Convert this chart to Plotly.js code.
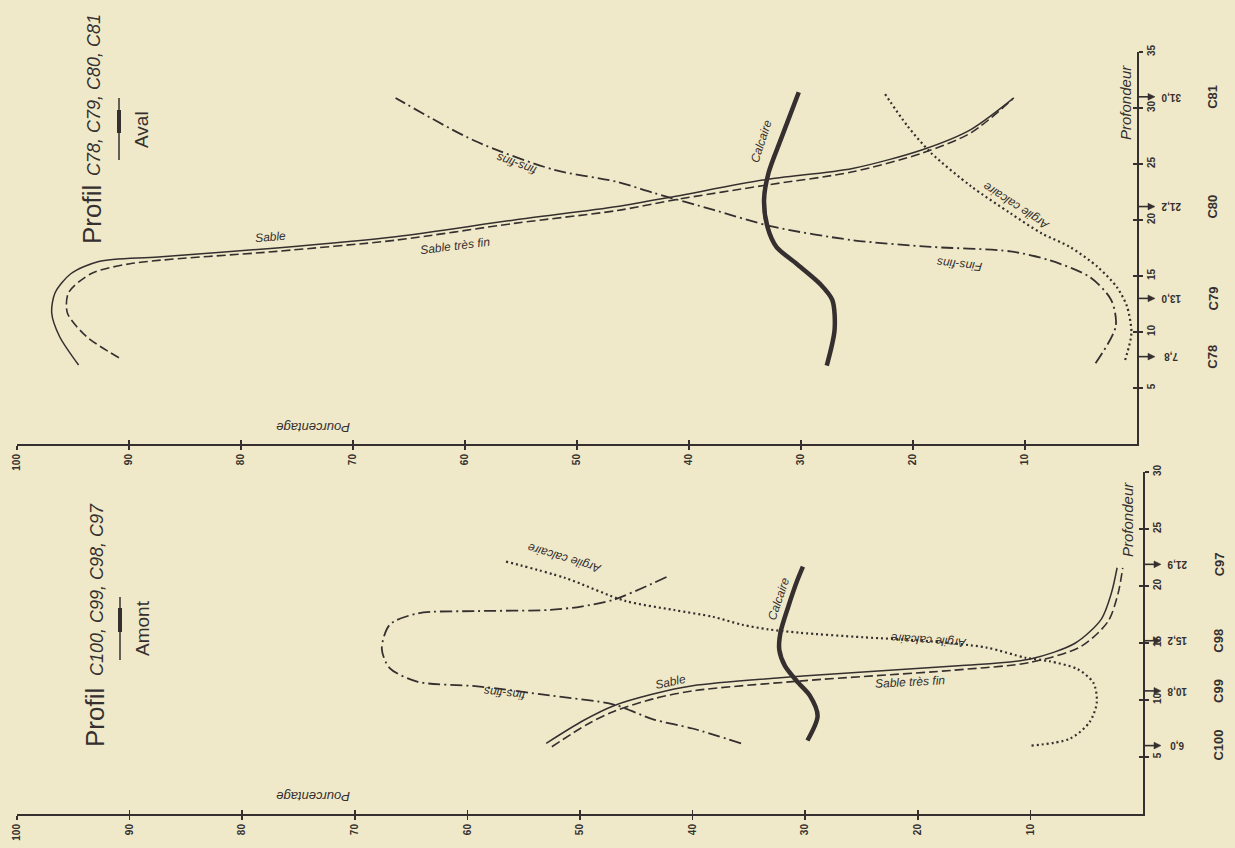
<!DOCTYPE html>
<html><head><meta charset="utf-8">
<script src="https://cdn.plot.ly/plotly-3.0.1.min.js"></script>
<style>html,body{margin:0;padding:0;background:#efe9c9;}#chart{width:1235px;height:848px;}</style>
</head><body><div id="chart"></div>
<script>
// ---------- DATA : Profil C78, C79, C80, C81 (Aval) ----------
const avalSableDepth = [7.05, 9.6, 11.7, 13.5, 15.2, 16.3, 16.7, 17.5, 18.5, 20.0, 21.2, 22.1, 23.6, 24.6, 26.3, 28.1, 30.9];
const avalSablePct   = [94.5, 96.2, 96.9, 96.6, 95.2, 92.7, 87.4, 76.8, 66.2, 55.6, 46.4, 41.3, 33.2, 25.4, 19.1, 14.8, 11.0];
const avalSableFinDepth = [7.7, 9.6, 11.7, 13.5, 15.2, 16.1, 17.2, 18.2, 19.7, 20.85, 21.8, 23.1, 24.3, 26.0, 27.8, 30.8];
const avalSableFinPct   = [90.9, 93.8, 95.5, 95.4, 93.4, 89.9, 76.8, 66.2, 55.6, 46.4, 41.3, 33.2, 25.4, 19.1, 14.8, 11.1];
const avalFinsDepth = [7.2, 10.5, 12.85, 14.9, 16.4, 17.2, 17.6, 18.2, 19.4, 20.9, 22.4, 23.4, 24.5, 27.1, 30.9];
const avalFinsPct   = [3.7, 1.9, 2.3, 4.2, 7.8, 11.3, 18.4, 25.4, 32.5, 37.8, 43.1, 46.4, 52.1, 59.2, 66.2];
const avalArgileDepth = [7.5, 9.9, 12.3, 14.0, 15.8, 17.6, 18.8, 20.6, 23.0, 26.0, 28.4, 31.4];
const avalArgilePct   = [1.06, 0.5, 0.9, 1.8, 3.5, 6.0, 8.5, 11.3, 14.8, 18.4, 20.5, 22.6];
const avalCalcDepth = [7.0, 10.2, 12.85, 14.3, 16.1, 17.6, 19.4, 21.8, 24.2, 27.2, 31.4];
const avalCalcPct   = [27.7, 27.0, 27.2, 28.3, 30.4, 32.2, 33.0, 33.3, 32.9, 31.8, 30.2];
const avalSampleDepths = [7.8, 13.0, 21.2, 31.0];
const avalSampleLabels = ['7,8', '13,0', '21,2', '31,0'];
const avalSampleNames  = ['C78', 'C79', 'C80', 'C81'];
const avalDepthTicks = [5, 10, 15, 20, 25, 30, 35];

// ---------- DATA : Profil C100, C99, C98, C97 (Amont) ----------
const amontSableDepth = [6.2, 8.2, 9.5, 10.5, 11.25, 12.1, 13.0, 13.6, 15.0, 17.1, 19.4, 21.6];
const amontSablePct   = [53, 49.7, 47, 43.6, 40, 30.2, 16.4, 10, 6, 3.7, 2.8, 2.3];
const amontSableFinDepth = [5.9, 7.9, 9.0, 10.1, 10.8, 11.7, 12.6, 13.3, 14.7, 16.9, 19.4, 21.6];
const amontSableFinPct   = [52.5, 49.3, 47, 43.5, 40, 30, 17, 10, 5.5, 3.1, 2.2, 1.8];
const amontFinsDepth = [6.2, 7.5, 8.3, 9.6, 10.4, 11.2, 11.6, 12.8, 14.5, 16.6, 17.6, 17.8, 17.9, 18.2, 18.8, 20.8];
const amontFinsPct   = [35.7, 40, 43.5, 47, 52.7, 59.1, 64.4, 66.9, 67.6, 66.9, 64.4, 59.1, 52.7, 49.9, 47, 42.3];
const amontArgileDepth = [6.0, 6.6, 8.05, 9.8, 11.5, 12.7, 13.4, 13.7, 14.6, 15.2, 15.5, 15.9, 16.2, 16.6, 17.3, 17.9, 18.7, 20.7, 22.2];
const amontArgilePct   = [9.9, 6.5, 4.75, 4.1, 4.4, 5.8, 8.3, 10.4, 13.9, 19.5, 24.8, 30.5, 33.3, 35.6, 38.2, 41.7, 46, 51.3, 56.8];
const amontCalcDepth = [6.45, 8.6, 10.4, 11.5, 13.0, 14.4, 15.9, 18.2, 20.5, 21.7];
const amontCalcPct   = [29.8, 28.9, 29.6, 30.6, 31.8, 32.3, 32.2, 31.5, 30.7, 30.2];
const amontSampleDepths = [6.0, 10.8, 15.2, 21.9];
const amontSampleLabels = ['6,0', '10,8', '15,2', '21,9'];
const amontSampleNames  = ['C100', 'C99', 'C98', 'C97'];
const amontDepthTicks = [5, 10, 15, 20, 25, 30];

const pctTicks = [10, 20, 30, 40, 50, 60, 70, 80, 90, 100];

// ---------- STYLE ----------
const W = 1235, H = 848;
const INK = '#352f2f';
const BG = '#efe9c9';
const PX = x => x / W, PY = y => 1 - y / H;
const styles = {
  sable:   {color: INK, width: 1.5},
  sablefin:{color: INK, width: 1.6, dash: '9px,4px'},
  fins:    {color: INK, width: 1.8, dash: '12px,4px,2px,4px'},
  argile:  {color: INK, width: 2.2, dash: '2px,3px'},
  calc:    {color: INK, width: 4.5}
};
function curve(pct, depth, st, xa, ya) {
  return {x: pct, y: depth, xaxis: xa, yaxis: ya, mode: 'lines', hoverinfo: 'skip',
          line: Object.assign({shape: 'spline', smoothing: 0.8}, st)};
}
const traces = [
  curve(avalSablePct, avalSableDepth, styles.sable, 'x2', 'y2'),
  curve(avalSableFinPct, avalSableFinDepth, styles.sablefin, 'x2', 'y2'),
  curve(avalFinsPct, avalFinsDepth, styles.fins, 'x2', 'y2'),
  curve(avalArgilePct, avalArgileDepth, styles.argile, 'x2', 'y2'),
  curve(avalCalcPct, avalCalcDepth, styles.calc, 'x2', 'y2'),
  curve(amontSablePct, amontSableDepth, styles.sable, 'x', 'y'),
  curve(amontSableFinPct, amontSableFinDepth, styles.sablefin, 'x', 'y'),
  curve(amontFinsPct, amontFinsDepth, styles.fins, 'x', 'y'),
  curve(amontArgilePct, amontArgileDepth, styles.argile, 'x', 'y'),
  curve(amontCalcPct, amontCalcDepth, styles.calc, 'x', 'y'),
  // invisible traces that activate the overlay tick axes
  {x: [], y: [], xaxis: 'x3', yaxis: 'y', showlegend: false},
  {x: [], y: [], xaxis: 'x', yaxis: 'y3', showlegend: false},
  {x: [], y: [], xaxis: 'x4', yaxis: 'y2', showlegend: false},
  {x: [], y: [], xaxis: 'x2', yaxis: 'y4', showlegend: false}
];

const tickFont = {family: 'Liberation Sans Narrow, Liberation Sans, Arial, sans-serif', size: 10, color: INK, weight: 700};
function pctAxis(domain, anchor, extra) {
  return Object.assign({domain: domain, anchor: anchor, range: [100, 0], autorange: false,
    tickmode: 'array', tickvals: pctTicks, ticktext: pctTicks.map(String), tickangle: -90,
    ticks: 'outside', ticklen: 4, tickwidth: 1.5, tickcolor: INK,
    showline: true, linecolor: INK, linewidth: 2, showgrid: false, zeroline: false,
    tickfont: tickFont, fixedrange: true}, extra || {});
}
function depthAxis(domain, anchor, top, ticks, extra) {
  return Object.assign({domain: domain, anchor: anchor, side: 'right', range: [0, top], autorange: false,
    tickmode: 'array', tickvals: ticks, ticktext: ticks.map(String), tickangle: -90,
    ticks: 'outside', ticklen: 4, tickwidth: 1.5, tickcolor: INK,
    showline: true, linecolor: INK, linewidth: 2, showgrid: false, zeroline: false,
    tickfont: tickFont, fixedrange: true}, extra || {});
}
const inner = {ticks: 'inside', showticklabels: false, showline: false};

const xB = [PX(17), PX(1143)], yB = [PY(814), PY(472)];
const xT = [PX(17), PX(1137)], yT = [PY(444), PY(52)];

const ann = [];
function txt(text, xref, yref, x, y, angle, size, italic, weight) {
  ann.push({text: text, xref: xref, yref: yref, x: x, y: y, textangle: angle,
    showarrow: false, xanchor: 'center', yanchor: 'middle',
    font: {family: 'Liberation Sans, Arial, sans-serif', size: size, color: INK,
           style: italic ? 'italic' : 'normal', weight: weight || 400}});
}
// curve labels - Aval
txt('Sable', 'x2', 'y2', 77.4, 18.5, -5, 12, true);
txt('Sable très fin', 'x2', 'y2', 60.9, 17.7, -7, 12, true);
txt('fins-fins', 'x2', 'y2', 55.4, 25.0, 200, 12, true);
txt('Fins-fins', 'x2', 'y2', 15.8, 16.0, 186, 12, true);
txt('Calcaire', 'x2', 'y2', 33.6, 27.0, -72, 12, true);
txt('Argile calcaire', 'x2', 'y2', 10.8, 21.2, 213, 12, true);
// curve labels - Amont
txt('Sable', 'x', 'y', 42.0, 11.6, -12, 12, true);
txt('Sable très fin', 'x', 'y', 20.7, 11.6, -3, 12, true);
txt('Calcaire', 'x', 'y', 32.4, 18.9, -71, 12, true);
txt('Argile calcaire', 'x', 'y', 19.1, 15.2, 184, 12, true);
txt('Argile calcaire', 'x', 'y', 51.4, 22.4, 197, 12, true);
txt('fins-fins', 'x', 'y', 56.7, 10.6, 186, 12, true);
// axis titles
txt('Pourcentage', 'paper', 'paper', PX(313), PY(428), 180, 13, true);
txt('Pourcentage', 'paper', 'paper', PX(313), PY(797), 180, 13, true);
txt('Profondeur', 'paper', 'paper', PX(1125), PY(103), -90, 15, true);
txt('Profondeur', 'paper', 'paper', PX(1127), PY(520), -90, 15, true);
// panel titles
txt('Profil', 'paper', 'paper', PX(92), PY(215), -90, 26, false);
txt('C78, C79, C80, C81', 'paper', 'paper', PX(94), PY(95), -90, 18, true);
txt('Aval', 'paper', 'paper', PX(141), PY(130), -90, 19, false);
txt('Profil', 'paper', 'paper', PX(95), PY(718), -90, 26, false);
txt('C100, C99, C98, C97', 'paper', 'paper', PX(97), PY(590), -90, 18, true);
txt('Amont', 'paper', 'paper', PX(142), PY(628), -90, 19, false);

const shapes = [
  {type: 'line', xref: 'paper', yref: 'paper', x0: PX(119), x1: PX(119), y0: PY(98), y1: PY(160), line: {color: INK, width: 1.5}},
  {type: 'line', xref: 'paper', yref: 'paper', x0: PX(119), x1: PX(119), y0: PY(110), y1: PY(133), line: {color: INK, width: 4}},
  {type: 'line', xref: 'paper', yref: 'paper', x0: PX(120), x1: PX(120), y0: PY(597), y1: PY(660), line: {color: INK, width: 1.5}},
  {type: 'line', xref: 'paper', yref: 'paper', x0: PX(120), x1: PX(120), y0: PY(608), y1: PY(632), line: {color: INK, width: 4}}
];

// sample arrows (shapes) & labels
function samples(depths, labels, names, yref, axisX, tipX, labX, nameX, half) {
  depths.forEach((d, i) => {
    shapes.push({type: 'line', xref: 'paper', yref: yref, x0: PX(axisX), x1: PX(tipX - 5), y0: d, y1: d,
                 line: {color: INK, width: 1.6}});
    shapes.push({type: 'path', xref: 'paper', yref: yref,
                 path: 'M ' + PX(tipX - 7) + ',' + (d + half) + ' L ' + PX(tipX) + ',' + d + ' L ' + PX(tipX - 7) + ',' + (d - half) + ' Z',
                 fillcolor: INK, line: {color: INK, width: 0.5}});
    txt(labels[i], 'paper', yref, PX(labX), d, 180, 10, false, 700);
    txt(names[i], 'paper', yref, PX(nameX), d, -90, 13, false, 700);
  });
}
samples(avalSampleDepths, avalSampleLabels, avalSampleNames, 'y2', 1137, 1155, 1171, 1213, 0.3);
samples(amontSampleDepths, amontSampleLabels, amontSampleNames, 'y', 1143, 1161, 1177, 1219, 0.3);

const layout = {
  width: W, height: H, margin: {l: 0, r: 0, t: 0, b: 0},
  paper_bgcolor: BG, plot_bgcolor: 'rgba(0,0,0,0)', showlegend: false,
  font: {family: 'Liberation Sans, Arial, sans-serif', color: INK},
  xaxis: pctAxis(xB, 'y'),
  yaxis: depthAxis(yB, 'x', 30, amontDepthTicks),
  xaxis2: pctAxis(xT, 'y2'),
  yaxis2: depthAxis(yT, 'x2', 35, avalDepthTicks),
  xaxis3: pctAxis(xB, 'y', Object.assign({overlaying: 'x'}, inner)),
  yaxis3: depthAxis(yB, 'x', 30, amontDepthTicks, Object.assign({overlaying: 'y'}, inner)),
  xaxis4: pctAxis(xT, 'y2', Object.assign({overlaying: 'x2'}, inner)),
  yaxis4: depthAxis(yT, 'x2', 35, avalDepthTicks, Object.assign({overlaying: 'y2'}, inner)),
  annotations: ann, shapes: shapes
};
Plotly.newPlot('chart', traces, layout, {staticPlot: true, displayModeBar: false});
</script></body></html>
